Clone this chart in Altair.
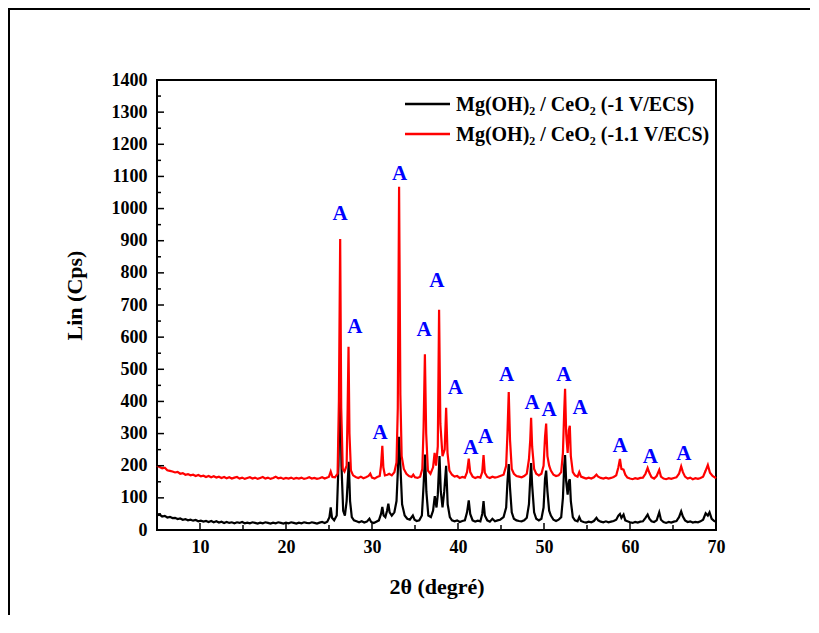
import altair as alt
import pandas as pd

# ---------------- data ----------------
red_pattern = [
    (5.0, 200), (5.3, 196), (5.6, 192), (5.9, 194), (6.2, 186), (6.5, 184), (6.8, 182), (7.1, 179),
    (7.4, 181), (7.7, 175), (8.0, 177), (8.3, 172), (8.6, 174), (8.9, 170), (9.2, 172), (9.5, 168),
    (9.8, 171), (10.1, 167), (10.4, 169), (10.7, 165), (11.0, 168), (11.3, 164), (11.6, 167), (11.9, 163),
    (12.2, 166), (12.5, 162), (12.8, 165), (13.1, 161), (13.4, 164), (13.7, 160), (14.0, 163), (14.3, 165),
    (14.6, 160), (14.9, 163), (15.2, 159), (15.5, 162), (15.8, 164), (16.1, 160), (16.4, 163), (16.7, 159),
    (17.0, 162), (17.3, 165), (17.6, 160), (17.9, 163), (18.2, 159), (18.5, 162), (18.8, 166), (19.1, 161),
    (19.4, 163), (19.7, 159), (20.0, 162), (20.3, 160), (20.6, 163), (20.9, 159), (21.2, 162), (21.5, 160),
    (21.8, 163), (22.1, 159), (22.4, 161), (22.7, 164), (23.0, 160), (23.3, 162), (23.6, 159), (23.9, 161),
    (24.2, 164), (24.5, 160), (24.8, 163), (25.0, 166), (25.2, 182), (25.4, 165), (25.7, 164), (26.0, 175),
    (26.15, 400), (26.3, 905), (26.42, 380), (26.6, 190), (26.8, 182), (27.05, 200), (27.17, 380), (27.27, 570),
    (27.38, 300), (27.55, 185), (27.8, 170), (28.1, 165), (28.4, 162), (28.7, 166), (29.0, 161), (29.3, 164),
    (29.6, 168), (29.8, 175), (30.0, 163), (30.3, 160), (30.6, 165), (30.9, 168), (31.05, 200), (31.2, 262),
    (31.32, 195), (31.5, 170), (31.8, 172), (32.0, 175), (32.3, 170), (32.6, 180), (32.85, 210), (33.0, 380),
    (33.15, 1068), (33.3, 420), (33.45, 230), (33.7, 190), (34.0, 175), (34.3, 168), (34.6, 165), (34.8, 172),
    (35.0, 164), (35.3, 162), (35.6, 166), (35.85, 190), (36.0, 320), (36.15, 547), (36.3, 300), (36.5, 185),
    (36.8, 175), (37.1, 195), (37.28, 240), (37.45, 200), (37.65, 260), (37.8, 685), (37.95, 330), (38.2, 230),
    (38.45, 250), (38.62, 380), (38.78, 240), (39.0, 185), (39.3, 172), (39.6, 166), (39.9, 168), (40.2, 162),
    (40.5, 165), (40.8, 163), (41.05, 180), (41.25, 222), (41.42, 180), (41.7, 166), (42.0, 162), (42.3, 165),
    (42.6, 163), (42.82, 180), (42.97, 233), (43.12, 178), (43.4, 165), (43.7, 162), (44.0, 166), (44.3, 163),
    (44.6, 165), (44.9, 168), (45.3, 172), (45.6, 200), (45.75, 300), (45.9, 429), (46.05, 280), (46.25, 190),
    (46.5, 175), (46.8, 168), (47.1, 166), (47.4, 164), (47.7, 168), (48.0, 175), (48.25, 220), (48.4, 280),
    (48.5, 349), (48.62, 260), (48.85, 190), (49.1, 175), (49.4, 170), (49.7, 175), (49.95, 200), (50.12, 290),
    (50.25, 331), (50.4, 230), (50.6, 200), (50.8, 185), (51.1, 172), (51.4, 168), (51.7, 170), (52.0, 180),
    (52.2, 240), (52.35, 370), (52.45, 439), (52.58, 300), (52.75, 240), (52.88, 310), (53.0, 324), (53.12, 230),
    (53.35, 180), (53.6, 170), (53.9, 166), (54.1, 180), (54.3, 166), (54.6, 163), (54.9, 160), (55.2, 163),
    (55.5, 160), (55.8, 164), (56.1, 172), (56.3, 166), (56.6, 162), (56.9, 160), (57.2, 163), (57.5, 160),
    (57.8, 162), (58.1, 165), (58.4, 170), (58.65, 195), (58.83, 221), (59.0, 190), (59.25, 188), (59.45, 172),
    (59.7, 163), (60.0, 160), (60.3, 158), (60.6, 161), (60.9, 159), (61.2, 162), (61.5, 163), (61.8, 175),
    (62.05, 193), (62.25, 178), (62.5, 164), (62.8, 160), (63.1, 168), (63.4, 187), (63.6, 166), (63.9, 160),
    (64.2, 158), (64.5, 161), (64.8, 159), (65.1, 162), (65.4, 164), (65.7, 175), (65.95, 198), (66.15, 180),
    (66.4, 166), (66.7, 160), (67.0, 163), (67.3, 158), (67.6, 161), (67.9, 159), (68.2, 162), (68.5, 166),
    (68.8, 185), (69.05, 202), (69.3, 178), (69.6, 168), (69.9, 163), (70.0, 165),
]

black_pattern = [
    (5.0, 45), (5.3, 48), (5.6, 42), (5.9, 44), (6.2, 39), (6.5, 41), (6.8, 37), (7.1, 38), (7.4, 34),
    (7.7, 36), (8.0, 32), (8.3, 34), (8.6, 30), (8.9, 32), (9.2, 29), (9.5, 31), (9.8, 27), (10.1, 29),
    (10.4, 26), (10.7, 28), (11.0, 25), (11.3, 28), (11.6, 24), (11.9, 27), (12.2, 23), (12.5, 26),
    (12.8, 22), (13.1, 25), (13.4, 22), (13.7, 24), (14.0, 21), (14.3, 24), (14.6, 22), (14.9, 25),
    (15.2, 21), (15.5, 23), (15.8, 21), (16.1, 24), (16.4, 22), (16.7, 20), (17.0, 23), (17.3, 21),
    (17.6, 24), (17.9, 22), (18.2, 20), (18.5, 23), (18.8, 21), (19.1, 24), (19.4, 22), (19.7, 20),
    (20.0, 23), (20.3, 21), (20.6, 24), (20.9, 22), (21.2, 20), (21.5, 23), (21.8, 21), (22.1, 24),
    (22.4, 22), (22.7, 21), (23.0, 24), (23.3, 22), (23.6, 20), (23.9, 23), (24.2, 25), (24.5, 22),
    (24.8, 26), (25.05, 40), (25.2, 70), (25.35, 38), (25.6, 30), (25.9, 45), (26.1, 200), (26.3, 505),
    (26.45, 200), (26.65, 60), (26.85, 45), (27.05, 90), (27.3, 212), (27.45, 90), (27.65, 40), (27.9, 30),
    (28.2, 27), (28.5, 24), (28.8, 27), (29.1, 23), (29.4, 26), (29.7, 35), (29.9, 25), (30.2, 22),
    (30.5, 26), (30.8, 30), (31.05, 50), (31.2, 72), (31.35, 45), (31.55, 40), (31.75, 60), (31.9, 82),
    (32.05, 55), (32.3, 45), (32.6, 55), (32.85, 90), (33.0, 180), (33.15, 290), (33.3, 200), (33.5, 80),
    (33.8, 45), (34.1, 35), (34.4, 32), (34.75, 45), (34.95, 32), (35.2, 28), (35.5, 30), (35.8, 45),
    (36.0, 140), (36.17, 235), (36.32, 120), (36.55, 45), (36.85, 40), (37.1, 60), (37.3, 105), (37.5, 70),
    (37.65, 110), (37.85, 230), (38.0, 120), (38.2, 70), (38.4, 120), (38.62, 200), (38.8, 80), (39.05, 40),
    (39.3, 30), (39.6, 27), (39.9, 30), (40.2, 25), (40.5, 28), (40.8, 30), (41.05, 55), (41.25, 92),
    (41.42, 50), (41.7, 30), (42.0, 26), (42.3, 29), (42.6, 27), (42.82, 50), (42.97, 90), (43.12, 45),
    (43.4, 30), (43.7, 26), (44.0, 35), (44.3, 27), (44.6, 30), (44.9, 32), (45.3, 40), (45.6, 70),
    (45.75, 150), (45.9, 205), (46.05, 130), (46.25, 55), (46.5, 35), (46.8, 30), (47.1, 28), (47.4, 27),
    (47.7, 30), (48.0, 38), (48.25, 80), (48.4, 160), (48.5, 208), (48.62, 140), (48.85, 55), (49.1, 35),
    (49.4, 30), (49.7, 35), (49.95, 70), (50.12, 160), (50.25, 185), (50.4, 120), (50.6, 60), (50.8, 45),
    (51.1, 32), (51.4, 28), (51.7, 32), (52.0, 40), (52.2, 100), (52.35, 200), (52.45, 233), (52.58, 150),
    (52.75, 110), (52.88, 150), (53.0, 158), (53.12, 90), (53.35, 40), (53.6, 30), (53.9, 27), (54.1, 40),
    (54.3, 28), (54.6, 25), (54.9, 23), (55.2, 26), (55.5, 24), (55.8, 28), (56.1, 38), (56.3, 30),
    (56.6, 26), (56.9, 24), (57.2, 27), (57.5, 24), (57.8, 26), (58.1, 28), (58.4, 32), (58.65, 45),
    (58.83, 50), (59.0, 38), (59.25, 48), (59.45, 30), (59.7, 27), (60.0, 24), (60.3, 22), (60.6, 25),
    (60.9, 23), (61.2, 26), (61.5, 27), (61.8, 38), (62.05, 48), (62.25, 35), (62.5, 27), (62.8, 25),
    (63.1, 30), (63.4, 55), (63.6, 32), (63.9, 25), (64.2, 22), (64.5, 25), (64.8, 23), (65.1, 26),
    (65.4, 28), (65.7, 40), (65.95, 58), (66.15, 42), (66.4, 30), (66.7, 25), (67.0, 27), (67.3, 23),
    (67.6, 25), (67.9, 24), (68.2, 27), (68.5, 32), (68.8, 52), (69.05, 45), (69.25, 55), (69.5, 35),
    (69.8, 28), (70.0, 26),
]

# "A" peak markers (2theta, label centre intensity)
a_x = [26.3, 28.0, 30.95, 33.2, 36.05, 37.55, 39.7, 41.5, 43.2, 45.65, 48.6, 50.6, 52.3, 54.2, 58.85, 62.35, 66.25]
a_y = [984, 632, 302, 1107, 622, 774, 442, 256, 290, 482, 394, 373, 482, 379, 260, 227, 235]

series_names = ["Mg(OH)\u2082 / CeO\u2082 (-1 V/ECS)", "Mg(OH)\u2082 / CeO\u2082 (-1.1 V/ECS)"]
series_colors = ["#000000", "#ff0000"]

x_labels = [10, 20, 30, 40, 50, 60, 70]
y_labels = [0, 100, 200, 300, 400, 500, 600, 700, 800, 900, 1000, 1100, 1200, 1300, 1400]
x_major = [10, 20, 30, 40, 50, 60]
x_minor = [15, 25, 35, 45, 55, 65]
y_major = [100, 200, 300, 400, 500, 600, 700, 800, 900, 1000, 1100, 1200, 1300]
y_minor = [50, 150, 250, 350, 450, 550, 650, 750, 850, 950, 1050, 1150, 1250, 1350]

# ---------------- chart ----------------
W, H = 559, 450
FONT = "Liberation Serif"

xs = alt.Scale(domain=[5, 70], nice=False, zero=False)
ys = alt.Scale(domain=[0, 1400], nice=False)
x_axis = alt.Axis(title="2\u03b8 (degré)", values=x_labels, labelFlush=False, format="d",
                  labelPadding=8, titlePadding=20)
y_axis = alt.Axis(title="Lin (Cps)", values=y_labels, format="d", labelPadding=10, titlePadding=25,
                  titleY=215)


def X(field):
    return alt.X(field, scale=xs, axis=x_axis)


def Y(field):
    return alt.Y(field, scale=ys, axis=y_axis)


black_df = pd.DataFrame(black_pattern, columns=["t", "v"])
red_df = pd.DataFrame(red_pattern, columns=["t", "v"])
a_df = pd.DataFrame({"t": a_x, "v": a_y})

black_line = alt.Chart(black_df).mark_line(color=series_colors[0], strokeWidth=2.2).encode(
    x=X("t:Q"), y=Y("v:Q"))

red_line = alt.Chart(red_df).mark_line(color=series_colors[1], strokeWidth=2.2).encode(
    x=X("t:Q"), y=Y("v:Q"))

a_text = alt.Chart(a_df).mark_text(
    text="A", font=FONT, fontWeight="bold", fontSize=21, color="#0000ff", baseline="middle", align="center"
).encode(x=X("t:Q"), y=Y("v:Q"))

xmaj_df = pd.DataFrame({"t": x_major})
xmin_df = pd.DataFrame({"t": x_minor})
ymaj_df = pd.DataFrame({"v": y_major})
ymin_df = pd.DataFrame({"v": y_minor})

xt_major = alt.Chart(xmaj_df).mark_rule(color="black", strokeWidth=1.5).encode(
    x=X("t:Q"), y=alt.value(H), y2=alt.value(H - 7))
xt_minor = alt.Chart(xmin_df).mark_rule(color="black", strokeWidth=1.5).encode(
    x=X("t:Q"), y=alt.value(H), y2=alt.value(H - 5))
yt_major = alt.Chart(ymaj_df).mark_rule(color="black", strokeWidth=1.5).encode(
    y=Y("v:Q"), x=alt.value(0), x2=alt.value(7))
yt_minor = alt.Chart(ymin_df).mark_rule(color="black", strokeWidth=1.5).encode(
    y=Y("v:Q"), x=alt.value(0), x2=alt.value(4))

# legend (manual)
leg_layers = []
for i, (name, col) in enumerate(zip(series_names, series_colors)):
    d = pd.DataFrame({"label": [name]})
    yy = 24 + 30 * i
    leg_layers.append(
        alt.Chart(d).mark_rule(color=col, strokeWidth=2.5).encode(
            x=alt.value(248), x2=alt.value(293), y=alt.value(yy))
    )
    leg_layers.append(
        alt.Chart(d).mark_text(font=FONT, fontWeight="bold", fontSize=20, color="black",
                               align="left", baseline="middle").encode(
            text="label:N", x=alt.value(299), y=alt.value(yy + 1))
    )

frame = alt.Chart(pd.DataFrame({"a": [0]})).mark_rect(
    fillOpacity=0, stroke="black", strokeWidth=2
).encode(x=alt.value(-148), x2=alt.value(654), y=alt.value(-71), y2=alt.value(640))

chart = alt.layer(
    black_line, red_line, a_text, xt_major, xt_minor, yt_major, yt_minor, *leg_layers, frame
).properties(
    width=W, height=H,
    autosize=alt.AutoSizeParams(type="none"),
    padding={"left": 149, "top": 72, "right": 94, "bottom": 85},
).configure_view(
    stroke="black", strokeWidth=2
).configure_axis(
    domain=False, ticks=False, grid=False,
    labelFont=FONT, labelFontWeight="bold", labelFontSize=18, labelColor="black",
    titleFont=FONT, titleFontWeight="bold", titleFontSize=22, titleColor="black",
)

chart.save("out.html", embed_options={"renderer": "svg", "actions": False})
